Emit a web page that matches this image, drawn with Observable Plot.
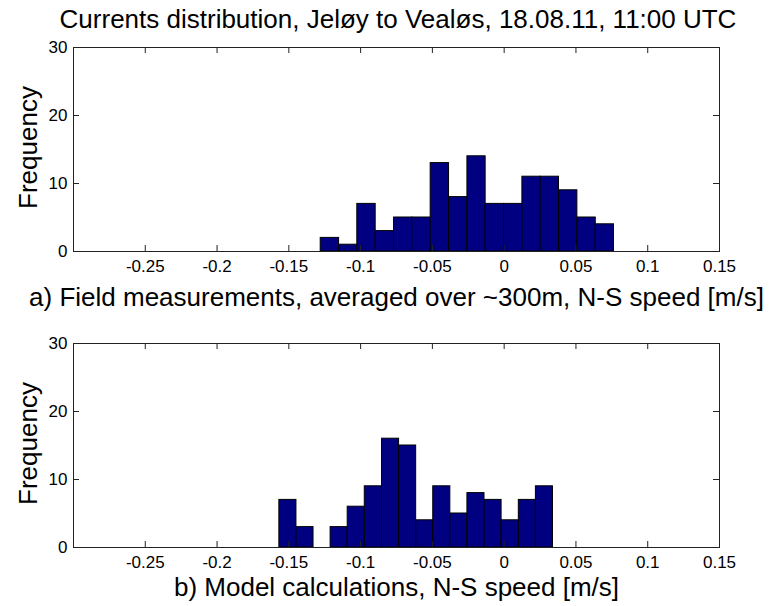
<!DOCTYPE html>
<html>
<head>
<meta charset="utf-8">
<script src="https://cdn.jsdelivr.net/npm/d3@7"></script>
<script src="https://cdn.jsdelivr.net/npm/@observablehq/plot@0.6"></script>
<style>
  html, body { margin: 0; padding: 0; background: white; }
  #chart { position: relative; width: 769px; height: 606px; background: white; font-family: "Liberation Sans", Arial, sans-serif; overflow: hidden; }
  #title { position: absolute; left: 0; top: 4px; width: 796px; text-align: center; font-size: 26px; line-height: 30px; color: #000; white-space: nowrap; z-index: 2; }
  .panel { position: absolute; left: 0; z-index: 1; }
</style>
</head>
<body>
<div id="chart">
  <div id="title">Currents distribution, Jeløy to Vealøs, 18.08.11, 11:00 UTC</div>
  <div id="p1" class="panel" style="top:30px"></div>
  <div id="p2" class="panel" style="top:318px"></div>
</div>
<script>
// ---- data ----
const topEdges = [-0.1278, -0.1150, -0.1023, -0.0895, -0.0767, -0.0640, -0.0512, -0.0384, -0.0256, -0.0129, -0.0001, 0.0127, 0.0254, 0.0382, 0.0510, 0.0638, 0.0765];
const topCounts = [2, 1, 7, 3, 5, 5, 13, 8, 14, 7, 7, 11, 11, 9, 5, 4];
const bottomEdges = [-0.1566, -0.1447, -0.1328, -0.1209, -0.1090, -0.0971, -0.0851, -0.0732, -0.0613, -0.0494, -0.0375, -0.0256, -0.0137, -0.0018, 0.0102, 0.0221, 0.0340];
const bottomCounts = [7, 3, 0, 3, 6, 9, 16, 15, 4, 9, 5, 8, 7, 4, 7, 9];
const xTicks = [-0.25, -0.2, -0.15, -0.1, -0.05, 0, 0.05, 0.1, 0.15];
const xTickLabels = ["-0.25", "-0.2", "-0.15", "-0.1", "-0.05", "0", "0.05", "0.1", "0.15"];
const yTicks = [0, 10, 20, 30];
const yTickLabels = ["0", "10", "20", "30"];
const topXLabel = "a) Field measurements, averaged over ~300m, N-S speed [m/s]";
const bottomXLabel = "b) Model calculations, N-S speed [m/s]";
const yLabel = "Frequency";

function bins(edges, counts) {
  return counts.map((c, i) => ({x1: edges[i], x2: edges[i + 1], count: c}));
}

function panel(data, xLabel, opts) {
  const width = 769, height = 288;
  const mL = 73, mR = 50;
  const frameH = height - opts.mT - opts.mB;
  const frameW = width - mL - mR;
  const tick = 6;
  return Plot.plot({
    width, height,
    marginLeft: mL, marginRight: mR, marginTop: opts.mT, marginBottom: opts.mB,
    style: {fontFamily: "Liberation Sans, Arial, sans-serif", color: "#000", background: "transparent", overflow: "visible"},
    x: {domain: [-0.3, 0.15]},
    y: {domain: [0, 30]},
    marks: [
      Plot.rectY(data, {x1: "x1", x2: "x2", y: "count", fill: "#000080", stroke: "#000", strokeWidth: 1}),
      Plot.frame({stroke: "#222"}),
      Plot.tickX(xTicks, {x: d => d, insetTop: frameH - tick, stroke: "#222"}),
      Plot.tickX(xTicks, {x: d => d, insetBottom: frameH - tick, stroke: "#222"}),
      Plot.tickY(yTicks, {y: d => d, insetRight: frameW - tick, stroke: "#222"}),
      Plot.tickY(yTicks, {y: d => d, insetLeft: frameW - tick, stroke: "#222"}),
      Plot.axisX({ticks: xTicks, tickSize: 0, tickPadding: 8, fontSize: 17, tickFormat: d => xTickLabels[xTicks.indexOf(d)], label: null}),
      Plot.axisY({ticks: yTicks, tickSize: 0, tickPadding: 6, fontSize: 17, tickFormat: d => yTickLabels[yTicks.indexOf(d)], label: null}),
      Plot.text([xLabel], {frameAnchor: "bottom", dy: opts.xlDy, fontSize: 26, lineAnchor: "middle", fill: "#000"}),
      Plot.text([yLabel], {frameAnchor: "left", textAnchor: "middle", dx: -45, dy: -2, rotate: -90, fontSize: 26, lineAnchor: "middle", fill: "#000"})
    ]
  });
}

document.getElementById("p1").appendChild(panel(bins(topEdges, topCounts), topXLabel, {mT: 17, mB: 67, xlDy: 46}));
document.getElementById("p2").appendChild(panel(bins(bottomEdges, bottomCounts), bottomXLabel, {mT: 25, mB: 59, xlDy: 40}));
</script>
</body>
</html>
